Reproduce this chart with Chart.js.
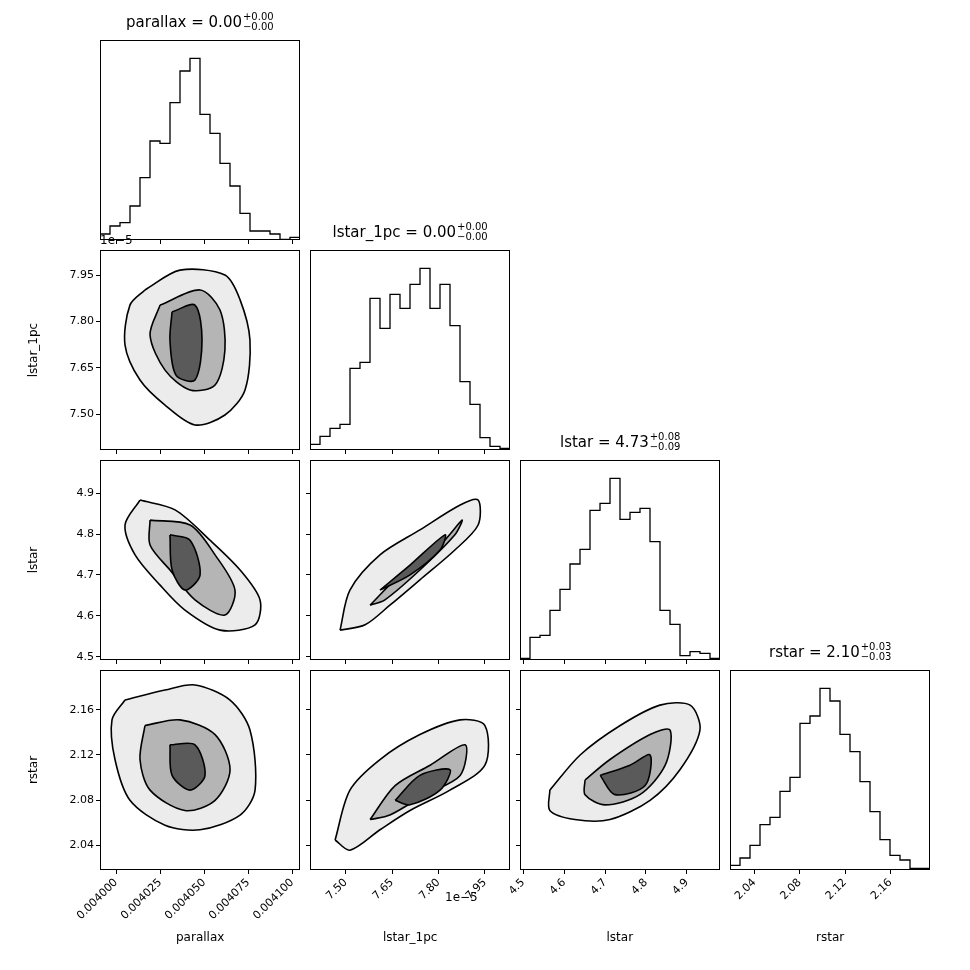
<!DOCTYPE html>
<html>
<head>
<meta charset="utf-8">
<script src="https://cdn.jsdelivr.net/npm/chart.js@4/dist/chart.umd.min.js"></script>
<style>
  body { margin: 0; background: #fff; font-family: "DejaVu Sans", sans-serif; }
  #wrap { position: relative; width: 970px; height: 970px; }
  canvas { position: absolute; }
  .t { position: absolute; font-size: 15px; white-space: nowrap; color: #000; }
  .ss { display: inline-block; vertical-align: middle; font-size: 10px; line-height: 10px; margin-left: 1px; }
  .lab { position: absolute; font-size: 12px; color: #000; white-space: nowrap; }
  .off { position: absolute; font-size: 12px; color: #000; }
</style>
</head>
<body>
<div id="wrap"></div>
<script>
const names = ["parallax", "lstar_1pc", "lstar", "rstar"];
const ranges = [[0.0039909, 0.0041044], [7.385, 8.031], [4.492, 4.981], [2.0185, 2.195]];
const tickVals = [
  [0.004, 0.004025, 0.00405, 0.004075, 0.0041],
  [7.5, 7.65, 7.8, 7.95],
  [4.5, 4.6, 4.7, 4.8, 4.9],
  [2.04, 2.08, 2.12, 2.16]
];
const tickDigits = [6, 2, 1, 2];
const titles = [
  ["parallax = 0.00", "+0.00", "−0.00"],
  ["lstar_1pc = 0.00", "+0.00", "−0.00"],
  ["lstar = 4.73", "+0.08", "−0.09"],
  ["rstar = 2.10", "+0.03", "−0.03"]
];

// histogram counts (20 bins each)
const histParallax = [18,42,52,102,187,297,290,412,507,545,377,320,230,162,80,27,27,18,2,8];
const histLstar1pc = [17,41,65,77,245,263,455,365,467,425,497,545,425,497,373,205,137,37,11,5];
const histLstar = [5,68,74,149,212,288,332,449,470,545,422,443,455,355,149,107,13,25,20,5];
const histRstar = [14,36,74,136,158,236,278,440,462,545,507,407,355,265,175,91,44,30,5,5];
const hists = [histParallax, histLstar1pc, histLstar, histRstar];

// contour outlines [outer, middle, inner], per (row, col)
const contours = {
  "1,0": [
    [[0.0040164,7.902],[0.0040363,7.966],[0.0040618,7.950],[0.0040704,7.870],[0.0040760,7.740],[0.0040732,7.579],[0.0040618,7.498],[0.0040448,7.466],[0.0040278,7.530],[0.0040136,7.611],[0.0040051,7.724],[0.0040079,7.853]],
    [[0.0040250,7.853],[0.0040477,7.902],[0.0040590,7.837],[0.0040618,7.708],[0.0040562,7.595],[0.0040420,7.579],[0.0040278,7.643],[0.0040193,7.756]],
    [[0.0040318,7.831],[0.0040448,7.853],[0.0040488,7.740],[0.0040448,7.611],[0.0040340,7.627],[0.0040306,7.740]]
  ],
  "2,0": [
    [[0.0040136,4.883],[0.0040335,4.859],[0.0040533,4.785],[0.0040704,4.712],[0.0040817,4.639],[0.0040789,4.578],[0.0040590,4.565],[0.0040391,4.614],[0.0040250,4.675],[0.0040108,4.749],[0.0040051,4.822]],
    [[0.0040193,4.834],[0.0040420,4.822],[0.0040562,4.749],[0.0040675,4.663],[0.0040618,4.602],[0.0040448,4.639],[0.0040306,4.712],[0.0040193,4.773]],
    [[0.0040306,4.798],[0.0040420,4.785],[0.0040477,4.700],[0.0040391,4.663],[0.0040318,4.712]]
  ],
  "2,1": [
    [[7.482,4.565],[7.514,4.663],[7.611,4.749],[7.740,4.810],[7.870,4.871],[7.928,4.883],[7.928,4.822],[7.853,4.761],[7.740,4.688],[7.643,4.626],[7.563,4.578]],
    [[7.579,4.626],[7.676,4.700],[7.805,4.773],[7.876,4.834],[7.853,4.798],[7.740,4.712],[7.627,4.639]],
    [[7.611,4.663],[7.708,4.724],[7.821,4.798],[7.805,4.761],[7.708,4.700]]
  ],
  "3,0": [
    [[0.0040051,2.1685],[0.0040278,2.1773],[0.0040448,2.1818],[0.0040647,2.1685],[0.0040760,2.142],[0.0040789,2.089],[0.0040704,2.067],[0.0040477,2.054],[0.0040278,2.058],[0.0040079,2.080],[0.0039994,2.116],[0.0039977,2.151]],
    [[0.0040164,2.146],[0.0040363,2.151],[0.0040562,2.138],[0.0040647,2.107],[0.0040562,2.080],[0.0040391,2.071],[0.0040193,2.089],[0.0040136,2.116]],
    [[0.0040306,2.129],[0.0040448,2.129],[0.0040505,2.102],[0.0040420,2.089],[0.0040318,2.102]]
  ],
  "3,1": [
    [[7.466,2.045],[7.514,2.089],[7.611,2.116],[7.740,2.138],[7.870,2.151],[7.950,2.146],[7.950,2.111],[7.837,2.089],[7.708,2.071],[7.611,2.054],[7.514,2.036]],
    [[7.579,2.063],[7.660,2.093],[7.773,2.111],[7.886,2.129],[7.870,2.102],[7.756,2.085],[7.643,2.067]],
    [[7.660,2.080],[7.740,2.102],[7.837,2.107],[7.805,2.089],[7.708,2.076]]
  ],
  "3,2": [
    [[4.565,2.089],[4.639,2.120],[4.737,2.146],[4.834,2.164],[4.908,2.164],[4.932,2.142],[4.883,2.107],[4.810,2.080],[4.712,2.063],[4.626,2.063],[4.565,2.071]],
    [[4.651,2.098],[4.712,2.116],[4.810,2.138],[4.859,2.142],[4.847,2.111],[4.785,2.085],[4.700,2.076],[4.651,2.085]],
    [[4.688,2.102],[4.761,2.111],[4.810,2.120],[4.798,2.093],[4.724,2.085]]
  ]
};

const colLeft = [100, 310, 520, 730];
const rowTop = [40, 250, 460, 670];
const PS = 200;
const wrap = document.getElementById("wrap");

const frame = {
  id: "frame",
  afterDraw(c) {
    const a = c.chartArea, g = c.ctx;
    g.save();
    g.strokeStyle = "#000";
    g.lineWidth = 1;
    g.strokeRect(a.left + 0.5, a.top + 0.5, a.right - a.left - 1, a.bottom - a.top - 1);
    g.restore();
  }
};

function axis(i, showLabels, isX, rotate) {
  const [mn, mx] = ranges[i];
  return {
    type: "linear", min: mn, max: mx,
    afterBuildTicks: s => { s.ticks = tickVals[i].map(v => ({ value: v })); },
    afterFit: s => { if (isX) s.height = 100; else s.width = 80; },
    grid: { drawOnChartArea: false, drawTicks: true, tickLength: 4, color: "#000" },
    border: { display: false },
    ticks: {
      display: showLabels, color: "#000", font: { size: 11, family: "DejaVu Sans" },
      minRotation: rotate ? 45 : 0, maxRotation: rotate ? 45 : 0, padding: 2,
      callback: v => v.toFixed(tickDigits[i])
    }
  };
}

function makeCanvas(r, c) {
  const cv = document.createElement("canvas");
  cv.style.left = (colLeft[c] - 80) + "px";
  cv.style.top = (rowTop[r] - 40) + "px";
  cv.style.width = "300px";
  cv.style.height = "340px";
  cv.width = 300; cv.height = 340;
  wrap.appendChild(cv);
  return cv;
}

const baseOpts = (x, y) => ({
  responsive: false, animation: false, maintainAspectRatio: false,
  layout: { padding: { top: 40, right: 20, left: 0, bottom: 0 } },
  plugins: { legend: { display: false }, tooltip: { enabled: false } },
  scales: { x, y }
});

for (let r = 0; r < 4; r++) {
  for (let c = 0; c <= r; c++) {
    const cv = makeCanvas(r, c);
    const xAx = axis(c, r === 3, true, true);
    if (r === c) {
      const [mn, mx] = ranges[c];
      const h = hists[c];
      const w = (mx - mn) / h.length;
      const pts = h.map((v, k) => ({ x: mn + k * w, y: v }));
      pts.push({ x: mx, y: h[h.length - 1] });
      const yAx = {
        type: "linear", min: 0, max: 600,
        afterFit: s => { s.width = 80; },
        ticks: { display: false }, grid: { display: false }, border: { display: false }
      };
      new Chart(cv, {
        type: "line",
        data: { datasets: [{ data: pts, stepped: "before", borderColor: "#000", borderWidth: 1.3, pointRadius: 0, fill: false }] },
        options: baseOpts(xAx, yAx),
        plugins: [frame]
      });
    } else {
      const yAx = axis(r, c === 0, false, false);
      const shades = ["#ececec", "#b5b5b5", "#5a5a5a"];
      const ds = contours[r + "," + c].map((poly, k) => ({
        data: poly.concat([poly[0]]).map(p => ({ x: p[0], y: p[1] })),
        showLine: true, tension: 0.3, pointRadius: 0,
        borderColor: "#000", borderWidth: 1.6,
        backgroundColor: shades[k], fill: "shape", order: 3 - k
      }));
      new Chart(cv, { type: "scatter", data: { datasets: ds }, options: baseOpts(xAx, yAx), plugins: [frame] });
    }
  }
}

// titles above diagonal panels
titles.forEach((t, i) => {
  const d = document.createElement("div");
  d.className = "t";
  d.innerHTML = t[0] + '<span class="ss">' + t[1] + "<br>" + t[2] + "</span>";
  wrap.appendChild(d);
  d.style.left = (colLeft[i] + PS / 2 - d.offsetWidth / 2) + "px";
  d.style.top = (rowTop[i] - 28) + "px";
});

// axis labels
names.forEach((n, i) => {
  const d = document.createElement("div");
  d.className = "lab";
  d.textContent = n;
  wrap.appendChild(d);
  d.style.left = (colLeft[i] + PS / 2 - d.offsetWidth / 2) + "px";
  d.style.top = "930px";
  if (i > 0) {
    const e = document.createElement("div");
    e.className = "lab";
    e.textContent = n;
    wrap.appendChild(e);
    e.style.transform = "rotate(-90deg)";
    e.style.left = (33 - e.offsetWidth / 2) + "px";
    e.style.top = (rowTop[i] + PS / 2 - e.offsetHeight / 2) + "px";
  }
});

const off1 = document.createElement("div");
off1.className = "off"; off1.textContent = "1e−5";
off1.style.left = "100px"; off1.style.top = "233px";
wrap.appendChild(off1);
const off2 = document.createElement("div");
off2.className = "off"; off2.textContent = "1e−5";
off2.style.left = "445px"; off2.style.top = "890px";
wrap.appendChild(off2);
</script>
</body>
</html>
